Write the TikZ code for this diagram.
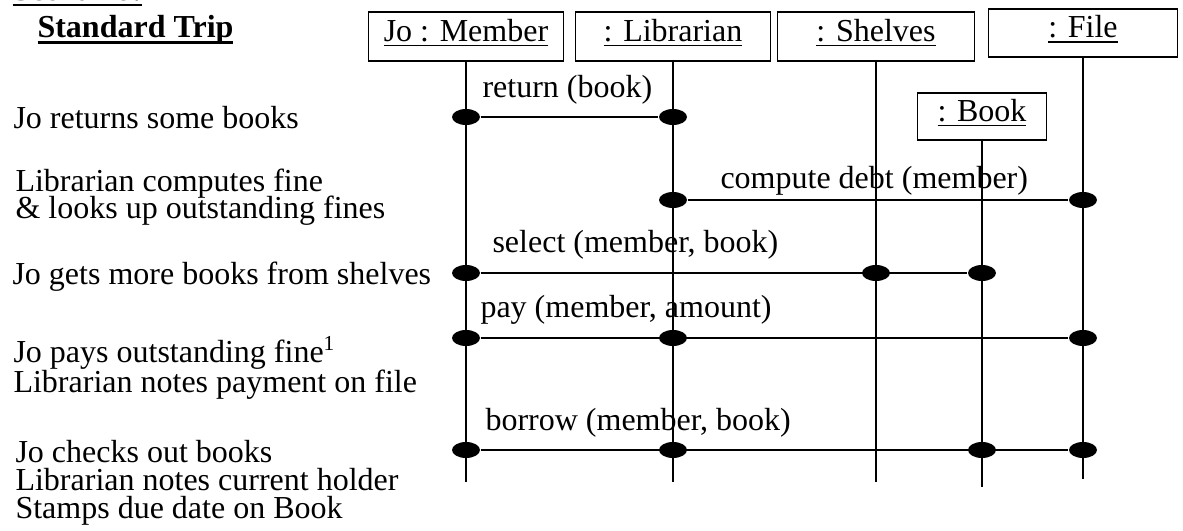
\documentclass[tikz,border=0pt]{standalone}
\usepackage{fontspec}
\setmainfont{Liberation Serif}
\usetikzlibrary{shapes.geometric}
\newsavebox{\ulsave}
% underlined text: #1 rule thickness, #2 text
\newcommand{\ultext}[2][0.55pt]{\sbox{\ulsave}{#2}\rlap{\usebox{\ulsave}}%
  \rule[\dimexpr-1.3pt-#1\relax]{\wd\ulsave}{#1}}
\newcommand{\scenhead}[1]{\ultext[0.9pt]{\textbf{#1}}}
\begin{document}
\begin{tikzpicture}[x=0.375pt,y=-0.375pt,
    font=\fontsize{12}{10.4}\selectfont,
    obj/.style={draw,line width=0.5pt,minimum width=#1,minimum height=18.4pt,
      inner sep=0pt,text height=8pt,text depth=4.25pt},
    life/.style={line width=0.85pt},
    msg/.style={line width=0.8pt},
    dot/.style={ellipse,fill=black,inner sep=0pt,minimum width=10.5pt,minimum height=6pt},
    note/.style={anchor=base west,inner sep=0pt},
    lbl/.style={anchor=base west,inner sep=0pt}]
\useasboundingbox (0,0) rectangle (1183,531);
% objects
\node[obj=73.1pt] (member) at (466,36.5) {\ultext{Jo : Member}};
\node[obj=73.1pt] (librarian) at (673,36.5) {\ultext{: Librarian}};
\node[obj=73.9pt] (shelves) at (876,36.5) {\ultext{: Shelves}};
\node[obj=70.9pt,minimum height=18pt] (file) at (1083,33) {\ultext{: File}};
\node[obj=48.4pt,minimum height=17.6pt] (book) at (982,116.5) {\ultext{: Book}};
% lifelines
\foreach \o/\yb in {member/482,librarian/482,shelves/482,book/487,file/479}{
  \coordinate (\o-end) at (\o.south |- 0,\yb);
  \draw[life] (\o) -- (\o-end);
}
% scenario text
\node[note] (scen) at (12,0.5) {\scenhead{Scenario:}};
\node[note] (trip) at (37,38) {\scenhead{Standard Trip}};
\node[note] (s1) at (13,129) {Jo returns some books};
\node[note] (s2) at (15,192) {Librarian computes fine};
\node[note] (s2b) at (15,219) {\& looks up outstanding fines};
\node[note] (s3) at (12,285) {Jo gets more books from shelves};
\node[note] (s4) at (13,362) {Jo pays outstanding fine\textsuperscript{1}};
\node[note] (s4b) at (13,392) {Librarian notes payment on file};
\node[note] (s5) at (15,462) {Jo checks out books};
\node[note] (s5b) at (15,490) {Librarian notes current holder};
\node[note] (s5c) at (15,518) {Stamps due date on Book};
% messages
\foreach \o in {member,librarian} \node[dot] (ret-\o) at (\o |- 0,117) {};
\draw[msg] (ret-member) -- (ret-librarian);
\node[lbl] (retlbl) at (482,98) {return (book)};

\foreach \o in {librarian,file} \node[dot] (deb-\o) at (\o |- 0,200) {};
\draw[msg] (deb-librarian) -- (deb-file);
\node[lbl] (deblbl) at (720,188) {compute debt (member)};

\foreach \o in {member,shelves,book} \node[dot] (sel-\o) at (\o |- 0,273) {};
\draw[msg] (sel-member) -- (sel-book);
\node[lbl] (sellbl) at (492,253) {select (member, book)};

\foreach \o in {member,librarian,file} \node[dot] (pay-\o) at (\o |- 0,338) {};
\draw[msg] (pay-member) -- (pay-file);
\node[lbl] (paylbl) at (480,318) {pay (member, amount)};

\foreach \o in {member,librarian,book,file} \node[dot] (bor-\o) at (\o |- 0,450) {};
\draw[msg] (bor-member) -- (bor-file);
\node[lbl] (borlbl) at (485,431) {borrow (member, book)};
\end{tikzpicture}
\end{document}
